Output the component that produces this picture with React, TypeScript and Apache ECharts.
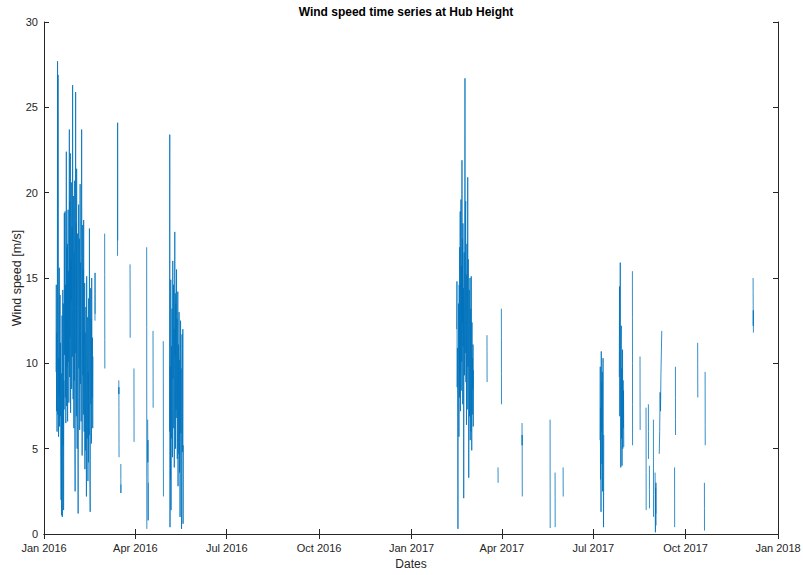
import { useEffect, useRef } from 'react';
import * as echarts from 'echarts';

// Quarterly date ticks along the time axis
const xTickDates = [
  '2016-01-01', '2016-04-01', '2016-07-01', '2016-10-01', '2017-01-01',
  '2017-04-01', '2017-07-01', '2017-10-01', '2018-01-01',
];
const monthNames = ['Jan', 'Feb', 'Mar', 'Apr', 'May', 'Jun', 'Jul', 'Aug', 'Sep', 'Oct', 'Nov', 'Dec'];

// A run of consecutive readings: [first timestamp, step in hours, wind speeds in m/s]
type Run = [string, number, number[]];

// Dense winter 2016 record, 6-hourly
const janFeb2016Start = '2016-01-13T00:00';
const janFeb2016 = [
  9.5, 14.6, 7.2, 11.8, 6.0, 12.0, 27.7, 7.0, 26.9, 14.2, 5.7, 10.3,
  8.1, 15.6, 6.3, 12.4, 14.0, 6.9, 11.2, 5.0, 2.0, 9.4, 1.1, 6.5,
  12.8, 1.0, 7.7, 14.3, 5.2, 13.5, 1.4, 9.0, 7.3, 18.8, 10.5, 15.2,
  18.9, 8.0, 14.6, 6.5, 12.0, 22.4, 7.5, 16.8, 9.8, 17.0, 6.6, 13.4,
  19.0, 10.1, 15.4, 7.7, 15.8, 23.7, 9.2, 19.5, 11.5, 22.3, 7.1, 16.0,
  13.7, 20.6, 8.5, 17.4, 18.0, 10.4, 26.3, 12.9, 7.9, 19.8, 13.0, 6.2,
  16.5, 9.0, 20.7, 5.3, 2.5, 14.8, 25.9, 10.6, 18.2, 6.9, 21.4, 8.1,
  5.0, 12.3, 17.6, 8.4, 1.2, 14.0, 19.3, 9.7, 11.0, 17.3, 6.1, 13.6,
  20.5, 8.8, 15.9, 11.2, 6.6, 16.2, 23.7, 14.9, 4.6, 12.2, 18.1, 9.3,
  15.5, 7.0, 18.4, 10.8, 6.0, 10.2, 14.7, 3.8, 11.8, 4.9, 9.0, 13.3,
  7.4, 2.2, 15.1, 10.0, 5.6, 8.6, 12.7, 3.1, 9.5, 4.2, 13.8, 6.7,
  5.8, 17.9, 8.3, 2.9, 1.3, 10.9, 14.4, 7.6, 12.6, 5.3, 15.0, 9.8,
  8.0, 11.5, 6.2, 10.4,
];

// May 2016 record, 6-hourly
const may2016Start = '2016-05-05T00:00';
const may2016 = [
  6.0, 23.4, 0.4, 9.8, 3.2, 14.9, 1.4, 8.5, 11.0, 5.6, 13.2, 7.9,
  4.5, 16.0, 9.1, 12.3, 14.6, 6.2, 12.0, 3.9, 8.8, 17.7, 10.4, 14.1,
  5.0, 13.5, 7.3, 11.9, 15.5, 6.8, 12.6, 4.4, 9.5, 14.2, 2.8, 7.5,
  11.1, 4.7, 13.0, 8.3, 3.6, 10.2, 1.0, 6.4, 12.5, 5.9, 9.7, 2.0,
  0.3, 8.1, 11.7, 4.8, 6.6, 12.0, 0.6, 5.2,
];

// Late winter 2017 record, 6-hourly
const febMar2017Start = '2017-02-15T00:00';
const febMar2017 = [
  12.0, 14.8, 8.6, 10.9, 6.3, 0.3, 9.4, 13.5, 11.2, 5.7, 14.6, 8.0,
  16.8, 9.5, 18.9, 7.2, 13.0, 19.6, 8.4, 15.7, 10.1, 21.9, 12.4, 17.3,
  7.6, 18.2, 11.0, 14.4, 2.1, 12.9, 16.5, 9.3, 14.0, 26.7, 10.6, 18.8,
  19.5, 8.9, 15.2, 6.4, 11.8, 17.0, 7.3, 13.9, 20.9, 9.8, 16.1, 12.2,
  3.3, 10.5, 14.3, 6.9, 9.1, 15.0, 5.5, 11.7, 13.2, 6.0, 15.1, 8.8,
  4.9, 12.4, 7.0, 10.3, 8.5, 11.1, 6.3, 9.6,
];

// Summer 2017 records, 6-hourly
const earlyJul2017Start = '2017-07-07T18:00';
const earlyJul2017 = [5.5, 9.8, 3.2, 7.4, 1.3, 10.7, 6.0, 8.9, 4.1, 9.5, 2.5, 7.0, 10.3, 3.6, 0.4, 5.8];

const lateJul2017Start = '2017-07-26T22:00';
const lateJul2017 = [9.2, 14.5, 6.9, 12.0, 15.9, 8.1, 3.9, 11.3, 12.2, 5.6, 9.7, 4.0, 7.4, 10.8, 5.0, 9.0, 6.2, 8.4, 5.1];

// Short isolated runs of readings
const bursts2016: Run[] = [
  ['2016-02-20T18:00', 1, [12.5, 13.6, 15.3, 14.1, 12.9]],
  ['2016-03-01T10:00', 1, [17.6, 15.2, 13.0, 11.4, 9.7]],
  ['2016-03-14T06:00', 1, [16.3, 19.8, 24.1, 21.0, 17.2]],
  ['2016-03-15T12:00', 1, [9.0, 8.2, 8.6, 7.4, 6.1, 5.3, 4.5]],
  ['2016-03-17T12:00', 1, [4.1, 3.2, 2.4, 2.9]],
  ['2016-03-26T17:00', 1, [15.8, 14.3, 12.9, 11.5]],
  ['2016-03-30T14:00', 1, [9.7, 8.1, 6.9, 5.4]],
  ['2016-04-12T06:00', 1, [16.8, 12.1, 7.5, 3.3, 0.3]],
  ['2016-04-13T06:00', 3, [6.7, 4.2, 5.5, 2.1, 0.8, 3.0]],
  ['2016-04-18T14:00', 1, [11.9, 10.3, 8.8, 7.4]],
  ['2016-04-28T19:00', 1, [11.3, 8.9, 6.2, 4.0, 2.2]],
];

const bursts2017: Run[] = [
  ['2017-03-17T04:00', 1, [11.65, 10.7, 9.6, 8.9]],
  ['2017-03-28T04:00', 1, [3.9, 3.4, 3.0]],
  ['2017-03-31T12:00', 1, [13.2, 11.5, 9.4, 7.6]],
  ['2017-04-21T02:00', 1, [6.5, 5.7, 5.2, 5.8, 4.4, 3.1, 2.2]],
  ['2017-05-19T00:00', 1, [6.7, 4.8, 2.6, 0.35]],
  ['2017-05-24T00:00', 1, [3.6, 2.2, 0.4]],
  ['2017-06-01T00:00', 1, [3.9, 3.0, 2.2]],
  ['2017-08-09T00:00', 1, [15.4, 12.7, 10.0, 7.6, 5.2]],
  ['2017-08-16T14:00', 1, [10.4, 8.9, 7.3, 6.1]],
  ['2017-08-22T14:00', 1, [7.4, 5.8, 3.6, 1.4]],
  ['2017-08-24T22:00', 1, [7.6, 6.0, 4.4]],
  ['2017-08-25T22:00', 1, [4.0, 2.6, 1.5]],
  ['2017-08-29T22:00', 1, [6.7, 4.5, 2.3, 1.0]],
  ['2017-08-31T14:00', 4, [3.6, 1.8, 0.1, 2.7, 1.2, 3.0, 0.5]],
  ['2017-09-04T18:00', 10, [4.7, 6.0, 8.3, 7.2, 9.4, 10.6, 11.9]],
  ['2017-09-20T00:00', 1, [3.9, 2.1, 0.4]],
  ['2017-09-20T20:00', 1, [9.8, 8.0, 6.7, 5.8]],
  ['2017-10-13T00:00', 1, [11.2, 10.0, 8.9, 8.0]],
  ['2017-10-19T17:00', 1, [3.0, 1.5, 0.2]],
  ['2017-10-20T10:00', 1, [9.5, 7.8, 6.4, 5.2]],
  ['2017-12-07T05:00', 1, [15.0, 14.2, 13.4, 12.9, 12.2, 13.1, 12.5, 11.8]],
];

const HOUR_MS = 3600 * 1000;
const toTime = (s: string) => new Date(s).getTime();

function buildSeries(): [number, number | null][] {
  const runs: Run[] = [
    [janFeb2016Start, 6, janFeb2016],
    ...bursts2016,
    [may2016Start, 6, may2016],
    [febMar2017Start, 6, febMar2017],
    [earlyJul2017Start, 6, earlyJul2017],
    [lateJul2017Start, 6, lateJul2017],
    ...bursts2017,
  ];
  runs.sort((a, b) => toTime(a[0]) - toTime(b[0]));
  const out: [number, number | null][] = [];
  for (const [start, step, values] of runs) {
    const t0 = toTime(start);
    values.forEach((v, i) => out.push([t0 + i * step * HOUR_MS, v]));
    // break the line between separate runs
    out.push([t0 + values.length * step * HOUR_MS, null]);
  }
  return out;
}

const FONT = '"Liberation Sans", Arial, Helvetica, sans-serif';
const AXIS_COLOR = '#262626';

export default function App() {
  const ref = useRef<HTMLDivElement>(null);

  useEffect(() => {
    if (!ref.current) return;
    const chart = echarts.init(ref.current, undefined, { renderer: 'svg' });
    const ticks = xTickDates.map((d) => toTime(`${d}T00:00`));
    const xMin = ticks[0];
    const xMax = ticks[ticks.length - 1];
    const fmt = (v: number) => {
      const d = new Date(v);
      return `${monthNames[d.getMonth()]} ${d.getFullYear()}`;
    };
    const axisLine = { show: true, lineStyle: { color: AXIS_COLOR, width: 1 } };
    const tick = { show: true, inside: true, length: 5, lineStyle: { color: AXIS_COLOR, width: 1 } };

    chart.setOption({
      animation: false,
      backgroundColor: '#ffffff',
      textStyle: { fontFamily: FONT },
      grid: { left: 44, right: 25, top: 22, bottom: 41, outerBoundsMode: 'none', containLabel: false },
      graphic: [
        {
          type: 'text',
          x: 406,
          y: 12,
          style: {
            text: 'Wind speed time series at Hub Height',
            font: `bold 12px ${FONT}`,
            fill: '#000000',
            align: 'center',
            verticalAlign: 'middle',
          },
        },
      ],
      xAxis: [
        {
          type: 'value',
          position: 'bottom',
          min: xMin,
          max: xMax,
          name: 'Dates',
          nameLocation: 'middle',
          nameGap: 24,
          nameTextStyle: { color: AXIS_COLOR, fontSize: 12, fontFamily: FONT },
          axisLine,
          axisTick: { ...tick, customValues: ticks },
          axisLabel: {
            customValues: ticks,
            formatter: (v: number) => fmt(v),
            color: AXIS_COLOR,
            fontSize: 11,
            fontFamily: FONT,
            margin: 8,
            showMinLabel: true,
            showMaxLabel: true,
            hideOverlap: false,
          },
          splitLine: { show: false },
        },
        {
          type: 'value',
          position: 'top',
          min: xMin,
          max: xMax,
          axisLine,
          axisTick: { ...tick, customValues: ticks },
          axisLabel: { show: false, customValues: ticks },
          splitLine: { show: false },
        },
      ],
      yAxis: [
        {
          type: 'value',
          position: 'left',
          min: 0,
          max: 30,
          interval: 5,
          name: 'Wind speed [m/s]',
          nameLocation: 'middle',
          nameGap: 21,
          nameMoveOverlap: false,
          nameTextStyle: { color: AXIS_COLOR, fontSize: 12.5, fontFamily: FONT },
          axisLine,
          axisTick: tick,
          axisLabel: { color: AXIS_COLOR, fontSize: 11, fontFamily: FONT, margin: 6 },
          splitLine: { show: false },
        },
        {
          type: 'value',
          position: 'right',
          min: 0,
          max: 30,
          interval: 5,
          axisLine,
          axisTick: tick,
          axisLabel: { show: false },
          splitLine: { show: false },
        },
      ],
      series: [
        {
          type: 'line',
          xAxisIndex: 0,
          yAxisIndex: 0,
          data: buildSeries(),
          showSymbol: false,
          symbol: 'none',
          connectNulls: false,
          lineStyle: { color: '#0072BD', width: 0.8 },
          itemStyle: { color: '#0072BD' },
        },
      ],
    });

    return () => chart.dispose();
  }, []);

  return (
    <div
      ref={ref}
      style={{ position: 'fixed', left: 0, top: 0, width: 803, height: 575, background: '#fff' }}
    />
  );
}
